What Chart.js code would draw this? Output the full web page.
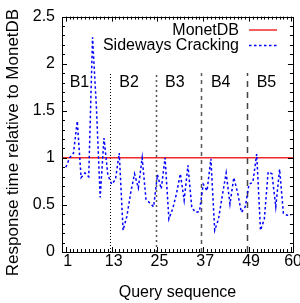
<!DOCTYPE html>
<html><head><meta charset="utf-8">
<script src="https://cdn.jsdelivr.net/npm/chart.js@4"></script>
<style>html,body{margin:0;padding:0;background:#fff;}canvas{display:block;}</style>
</head><body>
<canvas id="c" width="300" height="303"></canvas>
<script>
const queries = [1,2,3,4,5,6,7,8,9,10,11,12,13,14,15,16,17,18,19,20,21,22,23,24,25,26,27,28,29,30,
  31,32,33,34,35,36,37,38,39,40,41,42,43,44,45,46,47,48,49,50,51,52,53,54,55,56,57,58,59,60];
const sidewaysCracking = [0.90,1.00,1.05,1.39,0.79,0.84,0.80,2.28,1.55,0.58,1.21,0.82,
  0.72,0.77,1.05,0.23,0.38,0.63,0.83,0.68,1.00,0.56,0.52,0.48,
  0.82,0.67,1.00,0.35,0.46,0.62,0.83,0.55,0.92,0.47,0.42,0.43,
  0.72,0.65,0.99,0.23,0.35,0.60,0.84,0.51,0.79,0.63,0.42,0.48,
  0.72,0.74,1.04,0.23,0.35,0.85,0.83,0.48,0.88,0.41,0.39,0.39];
const monetdbX = [0, 60.5];
const monetdbY = [1, 1];
const xTickValues = [1, 13, 25, 37, 49, 60];
const yTickValues = [0, 0.5, 1, 1.5, 2, 2.5];
const blockBoundaries = [12.5, 24.5, 36.5, 48.5];
const blockNames = ['B1', 'B2', 'B3', 'B4', 'B5'];
const blockLabelQuery = [2, 15, 27, 39, 51];
const xTitle = 'Query sequence';
const yTitle = 'Response time relative to MonetDB';

const FONT = "'Liberation Sans', Arial, sans-serif";

const decorPlugin = {
  id: 'decor',
  beforeDatasetsDraw(chart) {
    const ctx = chart.ctx, xs = chart.scales.x, ys = chart.scales.y;
    const styles = [
      {dash: [1, 2], color: '#000', w: 1},
      {dash: [2, 3], color: '#555', w: 1.5},
      {dash: [4, 4], color: '#555', w: 1.5},
      {dash: [6, 5], color: '#444', w: 1.5}
    ];
    ctx.save();
    blockBoundaries.forEach((b, i) => {
      const s = styles[i];
      const px = Math.round(xs.getPixelForValue(b)) + 0.5;
      ctx.beginPath();
      ctx.setLineDash(s.dash);
      ctx.strokeStyle = s.color; ctx.lineWidth = s.w;
      ctx.moveTo(px, ys.getPixelForValue(0));
      ctx.lineTo(px, ys.getPixelForValue(1.9));
      ctx.stroke();
    });
    ctx.setLineDash([]);
    ctx.fillStyle = '#000';
    ctx.font = '16px ' + FONT;
    ctx.textAlign = 'left'; ctx.textBaseline = 'middle';
    blockNames.forEach((n, i) => {
      ctx.fillText(n, xs.getPixelForValue(blockLabelQuery[i]), ys.getPixelForValue(1.8));
    });
    ctx.restore();
  },
  afterDraw(chart) {
    const ctx = chart.ctx, xs = chart.scales.x, ys = chart.scales.y;
    const a = chart.chartArea;
    ctx.save();
    ctx.strokeStyle = '#000'; ctx.lineWidth = 1; ctx.setLineDash([]);
    ctx.beginPath();
    for (let q = 1; q <= 60; q++) {
      const px = Math.round(xs.getPixelForValue(q)) + 0.5;
      const len = xTickValues.includes(q) ? 5 : 3;
      ctx.moveTo(px, a.bottom); ctx.lineTo(px, a.bottom - len);
      ctx.moveTo(px, a.top); ctx.lineTo(px, a.top + len);
    }
    for (let k = 0; k <= 25; k++) {
      const v = k / 10;
      const py = Math.round(ys.getPixelForValue(v)) + 0.5;
      const len = (k % 5 === 0) ? 5 : 3;
      ctx.moveTo(a.left, py); ctx.lineTo(a.left + len, py);
      ctx.moveTo(a.right, py); ctx.lineTo(a.right - len, py);
    }
    ctx.stroke();
    ctx.strokeRect(Math.round(a.left) + 0.5, Math.round(a.top) + 0.5,
      Math.round(a.right - a.left), Math.round(a.bottom - a.top));
    // y axis title
    ctx.save();
    ctx.fillStyle = '#000';
    ctx.font = '17px ' + FONT;
    ctx.translate(13.5, 142.5);
    ctx.rotate(-Math.PI / 2);
    ctx.textAlign = 'center'; ctx.textBaseline = 'middle';
    ctx.fillText(yTitle, 0, 0);
    ctx.restore();
    // legend
    ctx.font = '16px ' + FONT;
    ctx.fillStyle = '#000';
    ctx.textAlign = 'right'; ctx.textBaseline = 'middle';
    const rows = [30.5, 46];
    const order = [1, 0];
    order.forEach((di, r) => {
      const ds = chart.data.datasets[di];
      ctx.fillText(ds.label, 239, rows[r]);
      ctx.beginPath();
      ctx.setLineDash(ds.borderDash || []);
      ctx.strokeStyle = ds.borderColor; ctx.lineWidth = ds.borderWidth;
      ctx.moveTo(249, rows[r] - 0.5); ctx.lineTo(277, rows[r] - 0.5);
      ctx.stroke();
    });
    ctx.restore();
  }
};

new Chart(document.getElementById('c'), {
  type: 'line',
  data: {
    datasets: [
      {
        label: 'Sideways Cracking',
        data: queries.map((q, i) => ({x: q, y: sidewaysCracking[i]})),
        borderColor: '#0000ff', borderWidth: 1.5, borderDash: [2.5, 2.5],
        pointRadius: 0, tension: 0, fill: false, order: 1
      },
      {
        label: 'MonetDB',
        data: monetdbX.map((x, i) => ({x: x, y: monetdbY[i]})),
        borderColor: '#f02828', borderWidth: 1.5,
        pointRadius: 0, tension: 0, fill: false, order: 2
      }
    ]
  },
  options: {
    responsive: false, animation: false, devicePixelRatio: 1,
    layout: {padding: {left: 0, right: 7, top: 14, bottom: 0}},
    plugins: {legend: {display: false}, tooltip: {enabled: false}},
    scales: {
      x: {
        type: 'linear', min: 0, max: 60.5,
        grid: {display: false, drawTicks: false}, border: {display: false},
        afterBuildTicks: (s) => { s.ticks = xTickValues.map(v => ({value: v})); },
        afterFit: (s) => { s.height = 51; },
        ticks: {font: {size: 16, family: FONT}, color: '#000', padding: 0,
          maxRotation: 0, autoSkip: false, labelOffset: 2, callback: (v) => String(v)},
        title: {display: true, text: xTitle, color: '#000',
          font: {size: 16, family: FONT}, padding: {top: 0, bottom: 1}}
      },
      y: {
        min: 0, max: 2.5,
        grid: {display: false, drawTicks: false}, border: {display: false},
        afterBuildTicks: (s) => { s.ticks = yTickValues.map(v => ({value: v})); },
        afterFit: (s) => { s.width = 62; },
        ticks: {font: {size: 16, family: FONT}, color: '#000', padding: 7,
          callback: (v) => String(v)},
        title: {display: false, text: yTitle}
      }
    }
  },
  plugins: [decorPlugin]
});
</script>
</body></html>
